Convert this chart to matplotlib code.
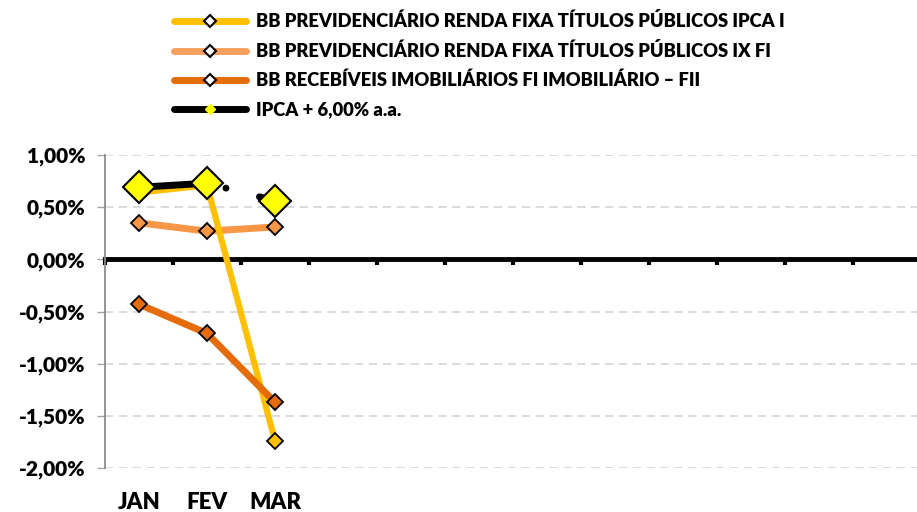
import matplotlib.pyplot as plt
from matplotlib.transforms import blended_transform_factory

plt.rcParams['font.family'] = ['Lato', 'DejaVu Sans']
plt.rcParams['font.weight'] = 'heavy'
plt.rcParams['lines.scale_dashes'] = False

# data (% per month)
months = ["JAN", "FEV", "MAR"]
n_slots = 12
ipca_i = [0.64, 0.71, -1.74]
ix_fi = [0.35, 0.27, 0.31]
receb = [-0.43, -0.71, -1.37]
ipca6 = [0.69, 0.73, 0.56]

names = [
    "BB PREVIDENCIÁRIO RENDA FIXA TÍTULOS PÚBLICOS IPCA I",
    "BB PREVIDENCIÁRIO RENDA FIXA TÍTULOS PÚBLICOS IX FI",
    "BB RECEBÍVEIS IMOBILIÁRIOS FI IMOBILIÁRIO – FII",
    "IPCA + 6,00% a.a.",
]
yticks = [1.0, 0.5, 0.0, -0.5, -1.0, -1.5, -2.0]

fig = plt.figure(figsize=(9.17, 5.12), dpi=100)
ax = fig.add_axes([105 / 917, 44 / 512, 816 / 917, 313 / 512])

x = list(range(len(months)))

l2, = ax.plot(x, ix_fi, color="#F79646", lw=5, solid_capstyle="round", zorder=3,
              marker="D", ms=8, mfc="#F79646", mec="black", mew=1.3)
l1, = ax.plot(x, ipca_i, color="#FFC000", lw=4.5, solid_capstyle="round", zorder=4,
              marker="D", ms=8, mfc="#FFC000", mec="black", mew=1.3)
l3, = ax.plot(x, receb, color="#E46C0A", lw=5, solid_capstyle="round", zorder=5,
              marker="D", ms=8, mfc="#E46C0A", mec="black", mew=1.3)
# IPCA + 6%: solid first segment, broken second segment as in the original
ax.plot(x[:2], ipca6[:2], color="black", lw=5, solid_capstyle="round", zorder=6)
ax.plot(x[1:], ipca6[1:], color="black", lw=5, dash_capstyle="round", zorder=6,
        linestyle=(50.8, (0.01, 24.9, 20, 20)))
ax.plot(x, ipca6, ls="none", marker="D", ms=16, mfc="#FFFF00", mec="black",
        mew=1.5, zorder=7)

ax.set_xlim(-0.5, n_slots - 0.5)
ax.set_ylim(-2.0, 1.0)
ax.set_yticks(yticks)
ax.set_yticklabels([f"{v:.2f}%".replace(".", ",") for v in yticks], fontsize=15)
ax.tick_params(axis="y", length=6, width=1, color="#A6A6A6", pad=8)
ax.grid(axis="y", color="#D9D9D9", lw=1.3, ls=(0, (6, 4)))
ax.set_axisbelow(True)

for s in ["top", "right"]:
    ax.spines[s].set_visible(False)
ax.spines["left"].set_color("#8C8C8C")
ax.spines["left"].set_linewidth(1.3)
ax.spines["bottom"].set_position(("data", 0))
ax.spines["bottom"].set_linewidth(3.5)
ax.spines["bottom"].set_zorder(2)
ax.set_xticks([i - 0.5 for i in range(n_slots + 1)])
ax.set_xticklabels([])
ax.tick_params(axis="x", direction="out", length=4, width=3, color="black")

trans = blended_transform_factory(ax.transData, ax.transAxes)
for i, m in enumerate(months):
    ax.text(i, -0.11, m, transform=trans, ha="center", va="center",
            fontsize=16, fontweight="heavy")

# legend
h4, = ax.plot([], [], color="black", lw=5, solid_capstyle="round",
              marker="D", ms=5, mfc="#FFFF00", mec="#FFFF00")
handles = [
    plt.Line2D([], [], color="#FFC000", lw=5, solid_capstyle="round",
               marker="D", ms=6, mfc="white", mec="black", mew=1.5),
    plt.Line2D([], [], color="#F9A060", lw=5, solid_capstyle="round",
               marker="D", ms=6, mfc="white", mec="black", mew=1.5),
    plt.Line2D([], [], color="#E46C0A", lw=5, solid_capstyle="round",
               marker="D", ms=6, mfc="white", mec="black", mew=1.5),
    h4,
]
fig.legend(handles, names, loc="upper left", bbox_to_anchor=(174 / 917, 1 - 12 / 512),
           frameon=False, fontsize=13.2, handlelength=3.9, handletextpad=0.55,
           labelspacing=0.65, borderpad=0, borderaxespad=0)

fig.savefig("out.png", dpi=100)
